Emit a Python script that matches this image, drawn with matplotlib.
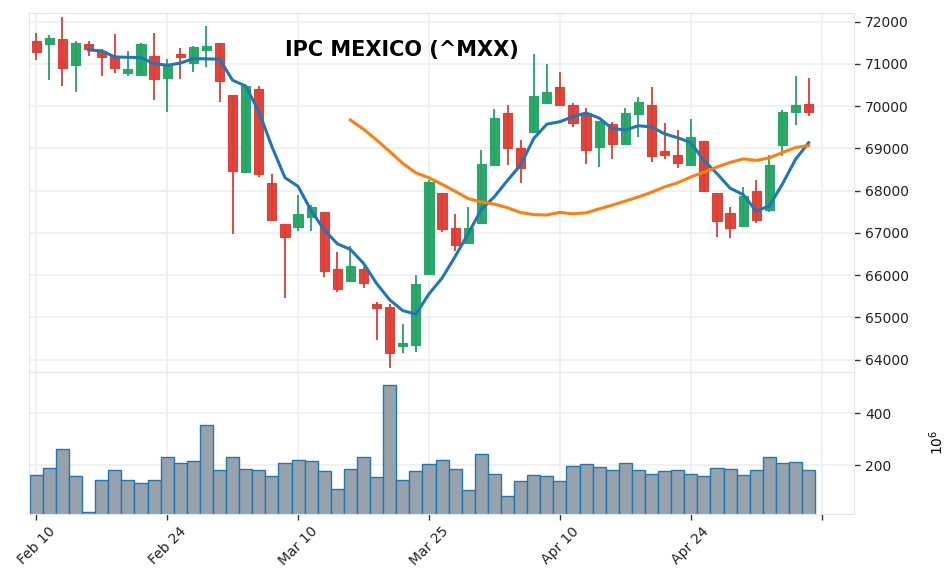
import numpy as np
import pandas as pd
import matplotlib
matplotlib.use("Agg")
import matplotlib.pyplot as plt

# daily OHLC + volume (millions)
opens = [71551, 71472, 71598, 70975, 71480, 71314, 71188, 70778, 70730, 71196,
         70660, 71243, 71030, 71322, 71504, 70273, 68450, 70399, 68190, 67219,
         67133, 67369, 67488, 66138, 65862, 66138, 65310, 65255, 64324, 64347,
         66020, 67953, 67125, 66762, 67235, 68616, 69847, 69018, 69397, 70083,
         70462, 70028, 69831, 69042, 69579, 69097, 69807, 70028, 68947, 68853,
         68608, 69184, 67937, 67464, 67156, 68000, 67543, 69081, 69855, 70052]
highs = [71725, 71685, 72103, 71551, 71535, 71354, 71709, 71306, 71488, 71733,
         71109, 71370, 71433, 71898, 71504, 70273, 70502, 70478, 68395, 67219,
         67898, 67661, 67488, 66541, 66699, 66201, 65357, 65310, 64844, 65996,
         68253, 67953, 67440, 67606, 68955, 69926, 70020, 69200, 71235, 70999,
         70809, 70068, 69965, 69657, 69634, 69949, 70210, 70446, 69594, 69429,
         69697, 69184, 67937, 67606, 68079, 68253, 68837, 69910, 70715, 70659]
lows = [71093, 70620, 70486, 70344, 71196, 70715, 70794, 70715, 70730, 70154,
        69870, 70644, 70817, 70936, 70107, 66967, 68427, 68332, 67283, 65468,
        67054, 67054, 65965, 65610, 65862, 65704, 64466, 63811, 64150, 64174,
        66020, 67014, 66580, 66762, 67235, 68616, 68616, 68190, 69397, 70083,
        70020, 69515, 68640, 68569, 68758, 69097, 69263, 68687, 68742, 68545,
        68608, 67977, 66912, 66888, 67156, 67243, 67488, 68829, 69555, 69776]
closes = [71275, 71622, 70904, 71504, 71346, 71157, 70904, 70872, 71464, 70636,
          70959, 71157, 71409, 71433, 70596, 68466, 70478, 68387, 67306, 66904,
          67440, 67606, 66099, 65673, 66225, 65807, 65215, 64166, 64403, 65791,
          68214, 67085, 66714, 67125, 68640, 69728, 69010, 68537, 70249, 70344,
          70020, 69610, 68963, 69657, 69105, 69847, 70107, 68829, 68837, 68647,
          69263, 68000, 67282, 67109, 67882, 67306, 68616, 69870, 70028, 69855]
volumes = [164, 191, 264, 160, 20, 145, 183, 145, 133, 145,
           233, 207, 218, 356, 180, 233, 187, 180, 160, 210,
           222, 218, 176, 107, 187, 230, 153, 510, 145, 176,
           203, 222, 187, 103, 245, 168, 80, 141, 164, 157,
           141, 199, 203, 195, 180, 210, 180, 168, 176, 183,
           168, 157, 191, 187, 164, 183, 233, 210, 214, 180]
tick_labels = ['Feb 10', 'Feb 24', 'Mar 10', 'Mar 25', 'Apr 10', 'Apr 24', '']

UP = '#22a463'
DOWN = '#dc3d33'
GRID = '#eceff4'
SPINE = '#e3e6eb'

df = pd.DataFrame({'open': opens, 'high': highs, 'low': lows,
                   'close': closes, 'volume': volumes})
x = np.arange(len(df))
ma5 = df['close'].rolling(5).mean()
ma25 = df['close'].rolling(25).mean()

fig = plt.figure(figsize=(9.52, 5.87), dpi=100)
ax = fig.add_axes([0.0305, 0.367, 0.867, 0.611])
axv = fig.add_axes([0.0305, 0.1244, 0.867, 0.2426], sharex=ax)

# candles
up = df['close'] >= df['open']
colors = np.where(up, UP, DOWN)
ax.vlines(x, df['low'], df['high'], colors=colors, linewidth=1.3, zorder=2)
body_lo = np.minimum(df['open'], df['close'])
body_h = np.abs(df['close'] - df['open']).clip(lower=40)
ax.bar(x, body_h, bottom=body_lo, width=0.7, color=colors, edgecolor=colors,
       linewidth=0.8, alpha=0.95, zorder=3)

ax.plot(x, ma5, color='#1f77b4', linewidth=2.2, zorder=4)
ax.plot(x, ma25, color='#ff7f0e', linewidth=2.2, zorder=4)

# volume
axv.bar(x, df['volume'], width=1.0, color='#98a2ad', edgecolor='#1f77b4',
        linewidth=1.0, zorder=2)

ax.set_xlim(-0.55, 62.5)
ax.set_ylim(63720, 72206)
axv.set_ylim(12.7, 560)

ax.set_yticks(np.arange(64000, 72001, 1000))
axv.set_yticks([200, 400])
axv.set_xticks(np.arange(0, 61, 10))
axv.set_xticklabels(tick_labels, rotation=45, ha='center')
ax.tick_params(axis='x', which='both', bottom=False, labelbottom=False)

for a in (ax, axv):
    a.yaxis.tick_right()
    a.tick_params(axis='both', labelsize=10, length=4, width=1,
                  color='#333333', labelcolor='#222222')
    a.grid(True, color=GRID, linewidth=1.2, zorder=0)
    a.set_axisbelow(True)
    for s in a.spines.values():
        s.set_color(SPINE)

axv.yaxis.set_label_position('right')
axv.set_ylabel('$10^6$', fontsize=10, labelpad=26)

fig.text(0.422, 0.915, 'IPC MEXICO (^MXX)', ha='center', va='center',
         fontsize=15, fontweight='bold')

fig.savefig('out.png', dpi=100)
